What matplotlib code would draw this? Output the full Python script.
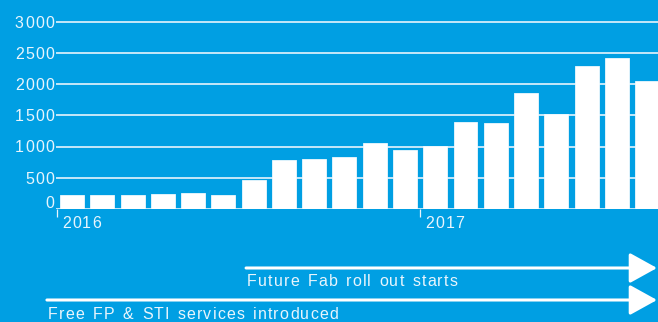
import matplotlib
matplotlib.use("Agg")
import matplotlib.pyplot as plt
from matplotlib import font_manager
from matplotlib.ft2font import FT2Font

# monthly counts, Jan 2016 - Aug 2017
months = ["2016-01", "2016-02", "2016-03", "2016-04", "2016-05", "2016-06",
          "2016-07", "2016-08", "2016-09", "2016-10", "2016-11", "2016-12",
          "2017-01", "2017-02", "2017-03", "2017-04", "2017-05", "2017-06",
          "2017-07", "2017-08"]
values = [225, 225, 225, 240, 257, 225, 465, 786, 802, 834, 1059, 946,
          1010, 1395, 1379, 1860, 1519, 2293, 2422, 2053]
yticks = [0, 500, 1000, 1500, 2000, 2500, 3000]

# events shown as arrows under the chart (position in month index units)
event_labels = ["Free FP & STI services introduced", "Future Fab roll out starts"]
event_starts = [-0.83, 5.75]

BG = "#009fe3"
FG = "#e8f5fd"
W, H = 658, 322
FONT = "Liberation Sans"
SIZE = 11.5
SPACING = 1.2     # extra pixels between letters
WORD_SPACE = 1.5  # extra pixels for a space

fig = plt.figure(figsize=(W / 100, H / 100), dpi=100, facecolor=BG)
ax = fig.add_axes([56 / W, (H - 209) / H, (W - 56) / W, 199.5 / H])
ax.set_facecolor(BG)

_ft = FT2Font(font_manager.findfont(font_manager.FontProperties(family=FONT)))
_ft.set_size(SIZE, 100)


def advances(s):
    return [_ft.load_char(ord(c)).linearHoriAdvance / 65536 + (WORD_SPACE if c == " " else 0)
            for c in s]


def spaced_text(s, xy, xycoords, dx=0, dy=0, ha="left", spacing=SPACING):
    # draw text letter by letter to get the wide tracking of the original
    adv = advances(s)
    total = sum(adv) + spacing * (len(s) - 1)
    x0 = dx - total if ha == "right" else dx
    for c, a in zip(s, adv):
        if c != " ":
            ax.annotate(c, xy=xy, xycoords=xycoords, xytext=(x0, dy),
                        textcoords="offset pixels", ha="left", va="baseline",
                        color=FG, fontsize=SIZE, fontfamily=FONT,
                        annotation_clip=False)
        x0 += a + spacing


x = list(range(len(months)))
ax.bar(x, values, width=0.79, color="white", edgecolor="#eef8fe", linewidth=0.6, zorder=3)

ax.set_xlim(-0.53, 19.36)
ax.set_ylim(0, 3200)
ax.set_yticks(yticks)
ax.set_yticklabels([])
ax.yaxis.grid(True, color="#d4edfb", linewidth=1.3, zorder=1)
ax.tick_params(axis="y", length=0)
for v in yticks:
    spaced_text(str(v), (0, v), ("axes fraction", "data"), dx=-2,
                dy=1.5 if v == 0 else -5.8, ha="right")

# year ticks at January boundaries
year_pos = [i - 0.5 for i, m in enumerate(months) if m.endswith("-01")]
year_lab = [m[:4] for m in months if m.endswith("-01")]
ax.set_xticks(year_pos)
ax.set_xticklabels([""] * len(year_pos))
ax.tick_params(axis="x", length=6, width=0.9, color=FG, direction="out", pad=0)
for p, lab in zip(year_pos, year_lab):
    spaced_text(lab, (p, 0), "data", dx=5, dy=-18.5)

for s in ax.spines.values():
    s.set_visible(False)

# event arrows
arrow_y = [(H - 300) / H, (H - 268) / H]
text_base = [(H - 319) / H, (H - 286.3) / H]
for lab, start, ay, ty in zip(event_labels, event_starts, arrow_y, text_base):
    ax.annotate("", xy=(657 / W, ay), xycoords="figure fraction",
                xytext=(start, ay), textcoords=("data", "figure fraction"),
                arrowprops=dict(arrowstyle="-|>,head_length=17,head_width=9.4",
                                mutation_scale=1, color="white", lw=2.2,
                                shrinkA=0, shrinkB=0),
                annotation_clip=False)
    spaced_text(lab, (start, ty), ("data", "figure fraction"), dx=1)

fig.savefig("out.png", dpi=100, facecolor=BG)
